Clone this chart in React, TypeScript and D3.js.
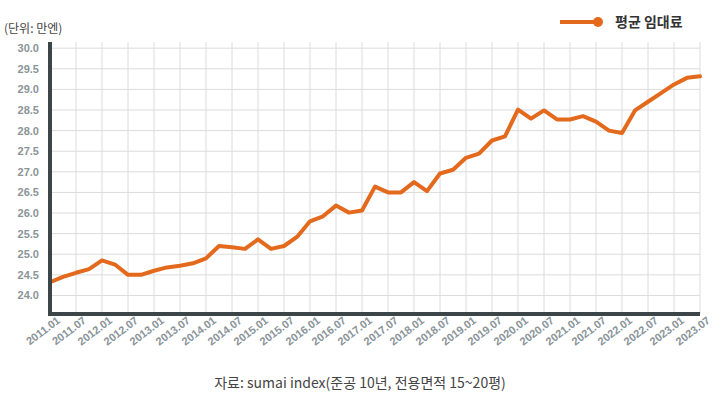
import { useEffect, useRef } from "react";
import * as d3 from "d3";

// quarterly periods
const periods = [
  "2011.01", "2011.04", "2011.07", "2011.10",
  "2012.01", "2012.04", "2012.07", "2012.10",
  "2013.01", "2013.04", "2013.07", "2013.10",
  "2014.01", "2014.04", "2014.07", "2014.10",
  "2015.01", "2015.04", "2015.07", "2015.10",
  "2016.01", "2016.04", "2016.07", "2016.10",
  "2017.01", "2017.04", "2017.07", "2017.10",
  "2018.01", "2018.04", "2018.07", "2018.10",
  "2019.01", "2019.04", "2019.07", "2019.10",
  "2020.01", "2020.04", "2020.07", "2020.10",
  "2021.01", "2021.04", "2021.07", "2021.10",
  "2022.01", "2022.04", "2022.07", "2022.10",
  "2023.01", "2023.04", "2023.07",
];

// 평균 임대료 (만엔)
const rents = [
  24.32, 24.45, 24.55, 24.64,
  24.85, 24.75, 24.5, 24.5,
  24.6, 24.68, 24.72, 24.78,
  24.9, 25.2, 25.17, 25.13,
  25.36, 25.13, 25.2, 25.42,
  25.8, 25.92, 26.18, 26.01,
  26.06, 26.64, 26.5, 26.5,
  26.75, 26.53, 26.96, 27.05,
  27.34, 27.44, 27.76, 27.86,
  28.51, 28.29, 28.49, 28.27,
  28.27, 28.35, 28.22, 28.0,
  27.94, 28.49, 28.7, 28.91,
  29.12, 29.28, 29.32,
];

const xTickLabels = [
  "2011.01", "2011.07", "2012.01", "2012.07", "2013.01", "2013.07",
  "2014.01", "2014.07", "2015.01", "2015.07", "2016.01", "2016.07",
  "2017.01", "2017.07", "2018.01", "2018.07", "2019.01", "2019.07",
  "2020.01", "2020.07", "2021.01", "2021.07", "2022.01", "2022.07",
  "2023.01", "2023.07",
];

const yTicks = [24, 24.5, 25, 25.5, 26, 26.5, 27, 27.5, 28, 28.5, 29, 29.5, 30];

export default function App() {
  const svgRef = useRef<SVGSVGElement>(null);

  useEffect(() => {
    if (!svgRef.current) return;
    const svg = d3.select(svgRef.current);
    svg.selectAll("*").remove();

    const width = 725;
    const height = 400;
    const left = 50;
    const right = 700;
    const top = 42;
    const bottom = 314;
    const orange = "#e3691c";
    const labelFont = "'Liberation Sans', Arial, sans-serif";
    const krFont = "'Noto Sans CJK KR', 'Noto Sans', sans-serif";

    svg.attr("width", width).attr("height", height);

    const x = d3.scalePoint<string>().domain(periods).range([left, right]);
    const y = d3.scaleLinear().domain([23.55, 30.15]).range([bottom, top]);

    // grid
    const grid = svg.append("g").attr("stroke", "#dcdcdc").attr("stroke-width", 1);
    grid
      .selectAll("line.h")
      .data(yTicks)
      .enter()
      .append("line")
      .attr("x1", left)
      .attr("x2", right)
      .attr("y1", (d) => y(d))
      .attr("y2", (d) => y(d));
    grid
      .selectAll("line.v")
      .data(xTickLabels)
      .enter()
      .append("line")
      .attr("x1", (d) => x(d)!)
      .attr("x2", (d) => x(d)!)
      .attr("y1", top)
      .attr("y2", bottom);

    // y tick labels
    svg
      .append("g")
      .selectAll("text")
      .data(yTicks)
      .enter()
      .append("text")
      .attr("x", 39)
      .attr("y", (d) => y(d) + 4)
      .attr("text-anchor", "end")
      .attr("font-family", labelFont)
      .attr("font-weight", "bold")
      .attr("font-size", 11)
      .attr("fill", "#8a9499")
      .text((d) => d.toFixed(1));

    // x tick labels
    svg
      .append("g")
      .selectAll("text")
      .data(xTickLabels)
      .enter()
      .append("text")
      .attr("transform", (d) => `translate(${x(d)! + 11}, ${bottom + 8}) rotate(-37)`)
      .attr("text-anchor", "end")
      .attr("font-family", labelFont)
      .attr("font-weight", "bold")
      .attr("font-size", 11)
      .attr("fill", "#8a9499")
      .text((d) => d);

    // line
    const line = d3
      .line<number>()
      .x((_, i) => x(periods[i])!)
      .y((d) => y(d));

    svg
      .append("path")
      .datum(rents)
      .attr("d", line)
      .attr("fill", "none")
      .attr("stroke", orange)
      .attr("stroke-width", 4)
      .attr("stroke-linejoin", "round")
      .attr("stroke-linecap", "round");

    // axes
    svg
      .append("line")
      .attr("x1", left)
      .attr("x2", left)
      .attr("y1", top)
      .attr("y2", bottom + 2)
      .attr("stroke", "#3c4649")
      .attr("stroke-width", 4);
    svg
      .append("line")
      .attr("x1", left - 2)
      .attr("x2", right)
      .attr("y1", bottom)
      .attr("y2", bottom)
      .attr("stroke", "#3c4649")
      .attr("stroke-width", 4);

    // unit label
    svg
      .append("text")
      .attr("x", 4)
      .attr("y", 33)
      .attr("font-family", krFont)
      .attr("font-size", 12)
      .attr("fill", "#444")
      .text("(단위: 만엔)");

    // legend
    const legend = svg.append("g");
    legend
      .append("line")
      .attr("x1", 560)
      .attr("x2", 597)
      .attr("y1", 22)
      .attr("y2", 22)
      .attr("stroke", orange)
      .attr("stroke-width", 4);
    legend.append("circle").attr("cx", 598).attr("cy", 22).attr("r", 5).attr("fill", orange);
    legend
      .append("text")
      .attr("x", 615)
      .attr("y", 27)
      .attr("font-family", krFont)
      .attr("font-weight", "bold")
      .attr("font-size", 14)
      .attr("fill", "#333")
      .text("평균 임대료");

    // source
    svg
      .append("text")
      .attr("x", 360)
      .attr("y", 388)
      .attr("text-anchor", "middle")
      .attr("font-family", krFont)
      .attr("font-size", 14)
      .attr("fill", "#444")
      .text("자료: sumai index(준공 10년, 전용면적 15~20평)");
  }, []);

  return (
    <div style={{ position: "absolute", left: 0, top: 0, background: "#fff" }}>
      <svg ref={svgRef}></svg>
    </div>
  );
}
